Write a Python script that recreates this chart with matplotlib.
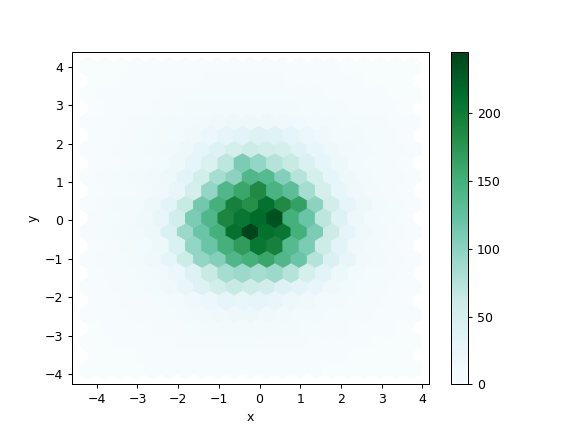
import matplotlib
matplotlib.use("Agg")
import matplotlib.pyplot as plt
import numpy as np

# hex grid layout
x_lo, x_hi = -4.21, 3.77
y_lo, y_hi = -3.87, 3.99
gridsize = 20

# counts per hex row, top row first; even rows have 21 cells, odd rows 20 (shifted half a cell)
rows = [
    [0, 0, 0, 1, 1, 1, 1, 2, 2, 2, 2, 2, 1, 1, 1, 1, 0, 0, 0, 0, 0],
    [0, 0, 1, 1, 1, 2, 2, 3, 3, 3, 3, 3, 2, 2, 1, 1, 1, 0, 0, 0],
    [0, 1, 1, 1, 2, 3, 4, 5, 6, 6, 6, 5, 5, 4, 3, 2, 1, 1, 1, 0, 0],
    [0, 1, 1, 2, 3, 5, 7, 9, 10, 11, 11, 10, 8, 6, 5, 3, 2, 1, 1, 0],
    [1, 1, 2, 3, 5, 8, 10, 12, 15, 18, 20, 18, 15, 12, 10, 8, 6, 5, 3, 2, 1],
    [1, 2, 3, 5, 8, 10, 15, 22, 30, 35, 40, 38, 30, 22, 15, 10, 8, 5, 3, 1],
    [1, 2, 3, 5, 8, 12, 20, 30, 40, 50, 60, 55, 50, 38, 28, 18, 12, 8, 5, 3, 2],
    [1, 2, 4, 6, 10, 18, 30, 45, 70, 110, 95, 75, 65, 45, 30, 18, 10, 6, 3, 2],
    [2, 3, 5, 8, 12, 20, 35, 55, 85, 100, 140, 135, 105, 75, 50, 30, 18, 10, 6, 3, 2],
    [2, 3, 6, 9, 15, 25, 50, 95, 140, 160, 185, 145, 130, 85, 50, 28, 15, 8, 4, 2],
    [2, 4, 7, 11, 18, 35, 65, 115, 150, 195, 180, 210, 185, 165, 100, 55, 30, 18, 10, 5, 2],
    [3, 5, 9, 14, 25, 55, 110, 140, 190, 205, 215, 235, 150, 120, 70, 40, 20, 10, 5, 2],
    [3, 5, 8, 12, 20, 45, 90, 120, 150, 210, 245, 210, 205, 150, 110, 60, 30, 15, 8, 4, 2],
    [2, 4, 7, 11, 20, 45, 95, 120, 150, 170, 205, 195, 135, 110, 60, 35, 15, 8, 4, 2],
    [2, 4, 6, 9, 15, 30, 60, 95, 105, 140, 150, 160, 140, 120, 75, 45, 25, 12, 7, 3, 2],
    [2, 3, 5, 8, 12, 22, 40, 65, 85, 90, 85, 90, 75, 50, 35, 20, 10, 6, 3, 1],
    [1, 2, 4, 6, 10, 15, 25, 40, 55, 65, 60, 55, 40, 35, 25, 15, 10, 6, 4, 2, 1],
    [1, 2, 3, 4, 6, 10, 15, 22, 30, 28, 30, 25, 20, 15, 10, 8, 5, 3, 2, 1],
    [1, 1, 2, 3, 4, 6, 9, 12, 15, 16, 17, 15, 13, 10, 8, 6, 4, 3, 2, 1, 1],
    [0, 1, 1, 2, 3, 4, 5, 7, 8, 9, 9, 8, 7, 5, 4, 3, 2, 1, 1, 0],
    [0, 0, 1, 1, 2, 2, 3, 4, 4, 5, 5, 4, 4, 3, 2, 2, 1, 1, 0, 0, 0],
    [0, 0, 0, 1, 1, 1, 2, 2, 2, 2, 2, 2, 1, 1, 1, 1, 0, 0, 0, 0],
    [0, 0, 0, 0, 1, 1, 1, 1, 1, 1, 1, 1, 1, 1, 1, 0, 0, 0, 0, 0, 0],
]

ny = int(gridsize / np.sqrt(3))
sx = (x_hi - x_lo) / gridsize
sy = (y_hi - y_lo) / ny

xs, ys, cs = [], [], []
for k, row in enumerate(rows):
    yc = y_hi - k * sy / 2
    off = 0.0 if k % 2 == 0 else 0.5
    for i, v in enumerate(row):
        xs.append(x_lo + (i + off) * sx)
        ys.append(yc)
        cs.append(v)

fig, ax = plt.subplots(figsize=(6.4, 4.8), dpi=90)
hb = ax.hexbin(xs, ys, C=cs, reduce_C_function=np.sum, gridsize=gridsize,
               extent=(x_lo, x_hi, y_lo, y_hi), cmap="BuGn")
fig.colorbar(hb, ax=ax)
ax.set_xlabel("x")
ax.set_ylabel("y")
fig.savefig("out.png")
